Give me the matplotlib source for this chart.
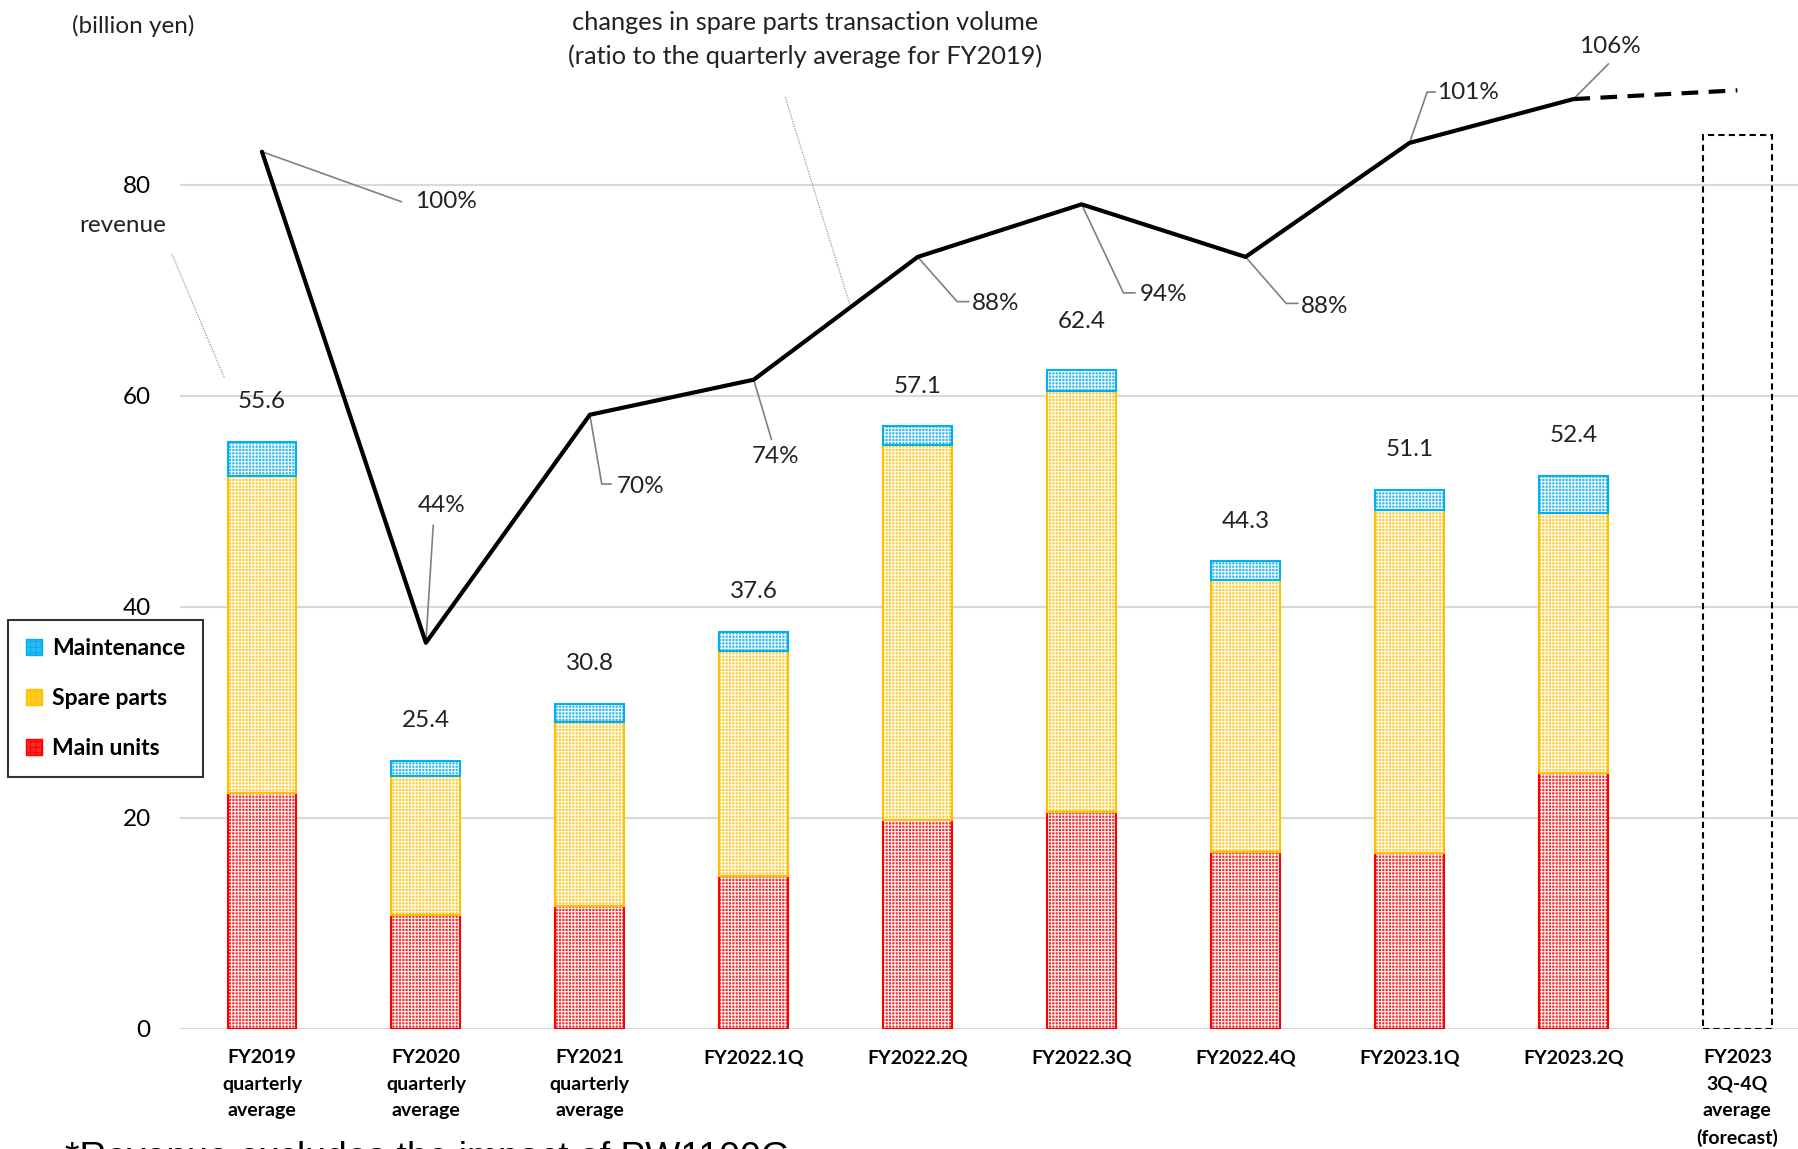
import matplotlib
matplotlib.use("Agg")
from matplotlib import pyplot as plt
from matplotlib.patches import Patch

# data (billion yen)
categories = ["FY2019\nquarterly\naverage", "FY2020\nquarterly\naverage", "FY2021\nquarterly\naverage",
              "FY2022.1Q", "FY2022.2Q", "FY2022.3Q", "FY2022.4Q", "FY2023.1Q", "FY2023.2Q",
              "FY2023\n3Q-4Q\naverage\n(forecast)"]
main_units = [22.3, 10.8, 11.6, 14.5, 19.8, 20.5, 16.7, 16.6, 24.2]
spare_parts = [30.1, 13.1, 17.5, 21.3, 35.5, 39.9, 25.8, 32.6, 24.7]
totals = [55.6, 25.4, 30.8, 37.6, 57.1, 62.4, 44.3, 51.1, 52.4]
maintenance = [round(t - m - s, 1) for t, m, s in zip(totals, main_units, spare_parts)]
forecast_total = 84.7
# spare parts transaction volume, % of FY2019 quarterly average
ratio = [100, 44, 70, 74, 88, 94, 88, 101, 106]
ratio_forecast = 107

plt.rcParams['font.family'] = ['Lato', 'DejaVu Sans']
plt.rcParams['hatch.linewidth'] = 0.75

fig = plt.figure(figsize=(17.98, 11.49), dpi=100)
ax = fig.add_axes([0.1001, 0.1048, 0.8999, 0.8952])
ax2 = ax.twinx()

x = list(range(len(totals)))
w = 0.42
layers = [
    (main_units, [0] * len(x), "#FF2A2A", "#FF0000", "Main units"),
    (spare_parts, main_units, "#FFCC2E", "#FFC000", "Spare parts"),
    (maintenance, [m + s for m, s in zip(main_units, spare_parts)], "#2EBBF0", "#00B0F0", "Maintenance"),
]
for vals, bottom, fc, ec, name in layers:
    ax.bar(x, vals, w, bottom=bottom, color=fc, linewidth=0, zorder=2)
    ax.bar(x, vals, w, bottom=bottom, fill=False, edgecolor="white", hatch="+++++", linewidth=0, zorder=3)
    ax.bar(x, vals, w, bottom=bottom, fill=False, edgecolor=ec, linewidth=1.5, zorder=4)

# forecast bar (outline only)
ax.bar([9], [forecast_total], w, fill=False, edgecolor="black", linestyle=(0, (3, 2)), linewidth=1.5, zorder=4)

for i, t in enumerate(totals):
    off = 4.6 if t > 60 else 3.8
    ax.text(i, t + off, f"{t:.1f}", ha="center", va="center", fontsize=17.5, color="#222222")

ax.set_xlim(-0.5, 9.37)
ax.set_ylim(0, 97.5)
ax.set_yticks([0, 20, 40, 60, 80])
ax.set_xticks(range(len(categories)))
ax.set_xticklabels(categories, fontsize=14, fontweight="bold", linespacing=1.66)
ax.tick_params(axis="x", length=0, pad=15)
ax.tick_params(axis="y", length=0, pad=21, labelsize=17.5)
ax.yaxis.grid(True, color="#D9D9D9", linewidth=1.5, zorder=0)
ax.set_axisbelow(True)
for s in ax.spines.values():
    s.set_visible(False)
ax.axhline(0, color="#D9D9D9", linewidth=1.5, zorder=1)

# ratio line
ax2.set_ylim(0, 117.3)
ax2.plot(x, ratio, color="black", linewidth=3, zorder=5, solid_capstyle="round")
ax2.plot([x[-1], 9], [ratio[-1], ratio_forecast], color="black", linewidth=3, dashes=(4, 2.5), zorder=5)
ax2.set_yticks([])
for s in ax2.spines.values():
    s.set_visible(False)

# percent labels with leader lines: (leader points, text x, text y, ha)
leaders = [
    ([0.85], [94.3], 0.934, 94.3, "left"),
    ([1.045], [57.4], 1.094, 59.6, "center"),
    ([2.073, 2.129], [62.1, 62.1], 2.164, 61.8, "left"),
    ([3.108], [67.2], 3.136, 65.2, "center"),
    ([4.241, 4.311], [82.9, 82.9], 4.332, 82.7, "left"),
    ([5.255, 5.325], [83.9, 83.9], 5.353, 83.7, "left"),
    ([6.248, 6.318], [82.7, 82.7], 6.339, 82.4, "left"),
    ([7.108, 7.157], [106.8, 106.8], 7.171, 106.8, "left"),
    ([8.213], [110.0], 8.220, 112.0, "center"),
]
for i, (lx, ly, tx, ty, ha) in enumerate(leaders):
    ax2.plot([i] + lx, [ratio[i]] + ly, color="#808080", linewidth=1.2, zorder=4)
    ax2.text(tx, ty, f"{ratio[i]}%", ha=ha, va="center", fontsize=17.5, color="#222222")

# revenue label
ax.text(-0.85, 76.1, "revenue", ha="center", va="center", fontsize=17.5, color="#222222", clip_on=False)
ax.plot([-0.549, -0.227], [73.4, 61.6], color="#9A9A9A", linewidth=0.9, linestyle=(0, (1, 1)), clip_on=False)

# spare parts label
fig.text(0.448, 0.9655, "changes in spare parts transaction volume\n(ratio to the quarterly average for FY2019)",
         ha="center", va="center", fontsize=18.3, color="#222222", linespacing=1.5)
ax.plot([3.192, 3.591], [88.3, 68.4], color="#9A9A9A", linewidth=0.9, linestyle=(0, (1, 1)))

fig.text(0.074, 0.977, "(billion yen)", ha="center", va="center", fontsize=17.5, color="#222222")

fig.text(0.036, 0.007, "*Revenue excludes the impact of PW1100G", ha="left", va="top",
         fontsize=26.8, family="Liberation Sans", color="black")

handles = [Patch(facecolor=fc, edgecolor=ec, hatch="+++", label=name) for _, _, fc, ec, name in layers[::-1]]
leg = fig.legend(handles=handles, loc="upper left", bbox_to_anchor=(0.0045, 0.4604),
                 prop={"weight": "bold", "size": 16.5}, frameon=True, fancybox=False,
                 edgecolor="black", handlelength=0.7, handleheight=0.7, handletextpad=0.4,
                 labelspacing=1.25, borderpad=0.8, borderaxespad=0)
leg.get_frame().set_linewidth(1.5)

fig.savefig("out.png", dpi=100)
